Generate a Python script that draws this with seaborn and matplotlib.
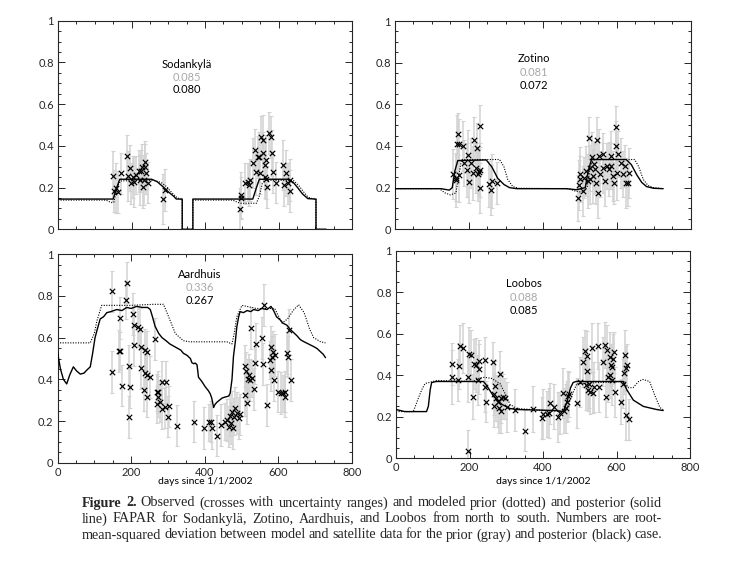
import matplotlib
matplotlib.use("Agg")
import matplotlib.pyplot as plt
from matplotlib.ticker import MultipleLocator, FuncFormatter
import seaborn as sns

# ---- Sodankyla ----
sod_obs_day = [151, 152, 158, 164, 172, 188, 190, 197, 198, 204, 208, 213, 220, 222, 226, 229, 231, 233, 236, 238, 240, 245, 285, 290,
               494, 497, 498, 510, 516, 519, 523, 530, 535, 539, 544, 548, 549, 553, 557, 559, 562, 563, 565, 566, 569, 573,
               580, 582, 584, 593, 612, 616, 621, 625, 630, 632]
sod_obs = [0.257, 0.185, 0.196, 0.18, 0.268, 0.353, 0.255, 0.292, 0.22, 0.25, 0.228, 0.26, 0.28, 0.236, 0.28, 0.30, 0.204, 0.236, 0.324, 0.30, 0.268, 0.224, 0.145, 0.188,
           0.097, 0.165, 0.149, 0.22, 0.228, 0.212, 0.236, 0.316, 0.38, 0.276, 0.348, 0.348, 0.268, 0.444, 0.367, 0.428, 0.308, 0.252, 0.243, 0.332, 0.204, 0.46,
           0.444, 0.364, 0.276, 0.224, 0.308, 0.212, 0.268, 0.22, 0.236, 0.185]
sod_err = [0.12, 0.10, 0.12, 0.10, 0.10, 0.10, 0.12, 0.11, 0.10, 0.10, 0.12, 0.09, 0.10, 0.12, 0.10, 0.11, 0.10, 0.12, 0.10, 0.11, 0.10, 0.10, 0.12, 0.10,
           0.10, 0.11, 0.10, 0.10, 0.09, 0.10, 0.10, 0.12, 0.10, 0.11, 0.10, 0.12, 0.10, 0.10, 0.10, 0.12, 0.11, 0.10, 0.10, 0.12, 0.10, 0.10,
           0.10, 0.11, 0.10, 0.10, 0.12, 0.10, 0.11, 0.10, 0.10, 0.10]
sod_prior_day = [0, 130, 145, 152, 160, 170, 260, 280, 295, 310, 325, 335, 338, 338, 367, 367, 475, 495, 540, 548, 556, 565,
                 640, 655, 668, 680, 695, 702, 702, 730]
sod_prior = [0.14, 0.14, 0.128, 0.13, 0.2, 0.232, 0.235, 0.225, 0.205, 0.175, 0.15, 0.145, 0.145, 0, 0, 0.14, 0.14, 0.125, 0.125, 0.16, 0.22, 0.235,
             0.235, 0.21, 0.18, 0.155, 0.145, 0.145, 0, 0]
sod_post_day = [0, 150, 158, 168, 255, 270, 285, 300, 315, 322, 338, 338, 367, 367, 530, 540, 548, 625, 640, 652, 665, 680, 702, 702, 730]
sod_post = [0.145, 0.145, 0.19, 0.24, 0.24, 0.228, 0.205, 0.18, 0.158, 0.145, 0.145, 0, 0, 0.145, 0.145, 0.2, 0.24, 0.24, 0.225, 0.2, 0.17, 0.147, 0.145, 0, 0]

# ---- Zotino ----
zot_obs_day = [158, 164, 166, 167, 171, 174, 174, 184, 188, 194, 197, 200, 207, 212, 214, 218, 221, 224, 228, 230, 230, 231, 254, 259, 263, 276,
               495, 497, 500, 502, 509, 513, 518, 522, 524, 527, 529, 532, 536, 538, 541, 545, 547, 550, 552, 554, 563, 563, 568, 574,
               579, 584, 586, 590, 593, 597, 599, 601, 604, 613, 617, 622, 626, 631, 634]
zot_obs = [0.264, 0.235, 0.246, 0.41, 0.458, 0.41, 0.259, 0.40, 0.317, 0.285, 0.358, 0.227, 0.317, 0.269, 0.43, 0.296, 0.39, 0.264, 0.275, 0.495, 0.199, 0.285, 0.218, 0.191, 0.231, 0.223,
           0.15, 0.215, 0.264, 0.24, 0.183, 0.248, 0.28, 0.231, 0.438, 0.24, 0.296, 0.345, 0.256, 0.312, 0.288, 0.223, 0.429, 0.175, 0.353, 0.264, 0.296, 0.36, 0.231, 0.304,
           0.288, 0.353, 0.304, 0.256, 0.223, 0.49, 0.40, 0.272, 0.361, 0.32, 0.264, 0.304, 0.223, 0.223, 0.272]
zot_err = [0.12, 0.13, 0.11, 0.14, 0.10, 0.12, 0.13, 0.12, 0.11, 0.13, 0.12, 0.10, 0.12, 0.13, 0.11, 0.12, 0.12, 0.13, 0.11, 0.10, 0.12, 0.13, 0.11, 0.12, 0.13, 0.10,
           0.11, 0.12, 0.13, 0.11, 0.12, 0.10, 0.12, 0.13, 0.10, 0.12, 0.11, 0.12, 0.13, 0.11, 0.12, 0.10, 0.11, 0.12, 0.13, 0.11, 0.12, 0.10, 0.12, 0.11,
           0.13, 0.12, 0.11, 0.12, 0.10, 0.10, 0.12, 0.13, 0.11, 0.12, 0.11, 0.10, 0.12, 0.11, 0.12]
zot_prior_day = [0, 120, 135, 150, 165, 172, 180, 283, 295, 305, 319, 335, 470, 485, 505, 520, 527, 535, 649, 660, 672, 685, 700, 726]
zot_prior = [0.195, 0.195, 0.175, 0.165, 0.175, 0.25, 0.335, 0.335, 0.3, 0.24, 0.205, 0.197, 0.195, 0.185, 0.178, 0.2, 0.28, 0.335,
             0.335, 0.3, 0.24, 0.21, 0.2, 0.195]
zot_post_day = [0, 125, 147, 155, 162, 170, 247, 262, 278, 295, 310, 330, 464, 491, 515, 523, 532, 626, 640, 655, 668, 681, 700, 726]
zot_post = [0.195, 0.195, 0.188, 0.2, 0.28, 0.33, 0.333, 0.3, 0.245, 0.215, 0.2, 0.195, 0.195, 0.19, 0.2, 0.28, 0.335, 0.335, 0.31, 0.26,
            0.225, 0.205, 0.197, 0.195]

# ---- Aardhuis ----
aar_obs_day = [149, 190, 186, 170, 167, 171, 149, 174, 195, 197, 194, 204, 209, 218, 224, 208, 226, 238, 244, 265, 226, 238, 244, 250,
               236, 243, 270, 273, 284, 294, 274, 278, 270, 284, 292, 303, 301, 325,
               372, 398, 411, 418, 420, 433, 445, 454, 460, 467, 468, 474, 479, 483, 488, 471, 477, 492, 495,
               509, 512, 517, 522, 526, 510, 519, 528, 533, 537, 539, 515, 558, 556, 561, 570, 577, 583, 580, 585, 581, 588,
               592, 599, 606, 613, 619, 617, 624, 626, 628, 633]
aar_obs = [0.822, 0.864, 0.78, 0.693, 0.536, 0.536, 0.434, 0.37, 0.466, 0.362, 0.218, 0.712, 0.661, 0.653, 0.642, 0.565, 0.554, 0.541, 0.53, 0.592, 0.453, 0.43, 0.42, 0.41,
           0.349, 0.317, 0.338, 0.34, 0.386, 0.386, 0.317, 0.293, 0.28, 0.26, 0.265, 0.27, 0.221, 0.178,
           0.197, 0.165, 0.194, 0.197, 0.165, 0.13, 0.181, 0.197, 0.205, 0.173, 0.226, 0.245, 0.221, 0.261, 0.237, 0.189, 0.168, 0.213, 0.232,
           0.464, 0.44, 0.40, 0.397, 0.645, 0.325, 0.421, 0.405, 0.354, 0.477, 0.568, 0.285, 0.475, 0.60, 0.757, 0.277, 0.493, 0.509, 0.557, 0.53, 0.445, 0.397,
           0.517, 0.341, 0.333, 0.333, 0.341, 0.317, 0.525, 0.509, 0.637, 0.397]
aar_err = [0.10, 0.10, 0.09, 0.10, 0.10, 0.09, 0.10, 0.10, 0.10, 0.10, 0.10, 0.10, 0.09, 0.10, 0.10, 0.10, 0.09, 0.10, 0.10, 0.10, 0.10, 0.09, 0.10, 0.10,
           0.10, 0.10, 0.09, 0.10, 0.10, 0.10, 0.10, 0.10, 0.09, 0.10, 0.10, 0.10, 0.10, 0.10,
           0.10, 0.10, 0.09, 0.10, 0.10, 0.10, 0.10, 0.09, 0.10, 0.10, 0.10, 0.10, 0.09, 0.10, 0.10, 0.10, 0.10, 0.10, 0.10,
           0.10, 0.09, 0.10, 0.10, 0.10, 0.10, 0.10, 0.09, 0.10, 0.10, 0.10, 0.10, 0.10, 0.10, 0.10, 0.10, 0.09, 0.10, 0.10, 0.10, 0.10, 0.10,
           0.10, 0.10, 0.10, 0.09, 0.10, 0.10, 0.10, 0.10, 0.10, 0.10]
aar_prior_day = [0, 89, 100, 107, 120, 200, 260, 288, 302, 320, 342, 360, 460, 474, 480, 487, 501, 540, 590, 610, 625, 640, 655,
                 670, 685, 696, 715, 728]
aar_prior = [0.575, 0.575, 0.62, 0.68, 0.755, 0.755, 0.76, 0.76, 0.70, 0.62, 0.585, 0.58, 0.58, 0.57, 0.62, 0.70, 0.755, 0.74, 0.74, 0.67,
             0.69, 0.73, 0.758, 0.72, 0.64, 0.60, 0.58, 0.575]
aar_post_day = [0, 8, 16, 25, 33, 43, 52, 62, 72, 80, 89, 95, 102, 108, 116, 125, 134, 145, 161, 175,
                188, 200, 215, 230, 245, 252, 258, 265, 275, 284, 295, 305, 315, 325, 335, 342, 352, 361, 365, 370,
                374, 379, 383, 392, 401, 410, 415, 419, 424, 428, 433, 440, 447, 455, 460, 465, 469, 474, 478, 483,
                487, 492, 496, 505, 515, 525, 533, 545, 555, 569, 580, 587, 595, 605, 612, 623, 632, 641, 650, 660,
                670, 678, 687, 696, 705, 714, 722, 728]
aar_post = [0.53, 0.45, 0.40, 0.378, 0.42, 0.46, 0.44, 0.425, 0.43, 0.445, 0.46, 0.52, 0.60, 0.64, 0.69, 0.70, 0.72, 0.725, 0.735, 0.73,
            0.745, 0.74, 0.75, 0.745, 0.745, 0.735, 0.70, 0.655, 0.62, 0.60, 0.585, 0.57, 0.56, 0.55, 0.54, 0.525, 0.515, 0.50, 0.48, 0.475,
            0.478, 0.47, 0.41, 0.39, 0.365, 0.345, 0.33, 0.31, 0.265, 0.28, 0.29, 0.30, 0.31, 0.315, 0.317, 0.32, 0.333, 0.40, 0.51, 0.58,
            0.65, 0.70, 0.725, 0.72, 0.73, 0.725, 0.735, 0.73, 0.74, 0.735, 0.75, 0.73, 0.70, 0.685, 0.67, 0.66, 0.64, 0.625, 0.61, 0.59,
            0.58, 0.573, 0.565, 0.557, 0.548, 0.533, 0.52, 0.504]

# ---- Loobos ----
loo_obs_day = [152, 152, 174, 181, 172, 168, 198, 204, 195, 209, 213, 218, 225, 227, 243, 263, 222, 245, 283, 241, 270, 267, 272, 278,
               268, 280, 286, 287, 297, 195, 292, 301, 324, 351, 374, 396, 401, 410, 415, 419, 431, 442, 446, 454, 458, 462, 465, 468,
               471, 493, 501, 510, 514, 519, 520, 516, 523, 532, 528, 526, 535, 540, 549, 552, 564, 569, 574, 572, 578, 581, 583, 585,
               587, 588, 590, 592, 596, 611, 618, 621, 623, 626, 628, 625, 635]
loo_obs = [0.453, 0.393, 0.541, 0.53, 0.445, 0.377, 0.502, 0.50, 0.393, 0.297, 0.454, 0.45, 0.47, 0.43, 0.475, 0.462, 0.377, 0.273, 0.406, 0.342, 0.348, 0.31, 0.29, 0.27,
           0.25, 0.24, 0.23, 0.289, 0.289, 0.035, 0.297, 0.249, 0.233, 0.133, 0.236, 0.193, 0.213, 0.215, 0.22, 0.265, 0.249, 0.2, 0.217, 0.313, 0.23, 0.24, 0.273, 0.3,
           0.308, 0.265, 0.369, 0.465, 0.517, 0.493, 0.422, 0.353, 0.329, 0.53, 0.321, 0.36, 0.316, 0.345, 0.54, 0.345, 0.466, 0.546, 0.52, 0.297, 0.39, 0.40, 0.49, 0.45,
           0.377, 0.44, 0.48, 0.51, 0.32, 0.273, 0.36, 0.41, 0.50, 0.433, 0.45, 0.21, 0.188]
loo_err = [0.10, 0.13, 0.10, 0.12, 0.11, 0.10, 0.13, 0.12, 0.12, 0.11, 0.12, 0.13, 0.10, 0.12, 0.11, 0.10, 0.12, 0.10, 0.11, 0.12, 0.12, 0.10, 0.11, 0.12,
           0.10, 0.12, 0.11, 0.12, 0.10, 0.10, 0.11, 0.12, 0.10, 0.10, 0.11, 0.10, 0.12, 0.11, 0.12, 0.10, 0.11, 0.12, 0.10, 0.12, 0.11, 0.12, 0.10, 0.12,
           0.11, 0.12, 0.12, 0.12, 0.10, 0.12, 0.11, 0.12, 0.10, 0.12, 0.11, 0.12, 0.10, 0.12, 0.11, 0.12, 0.12, 0.11, 0.12, 0.10, 0.12, 0.11, 0.12, 0.10,
           0.12, 0.11, 0.12, 0.10, 0.12, 0.11, 0.12, 0.10, 0.12, 0.11, 0.10, 0.12, 0.10]
loo_prior_day = [0, 47, 61, 70, 79, 111, 210, 225, 240, 260, 283, 300, 310, 328, 450, 465, 478, 492, 620, 632, 645, 660, 672, 690,
                 705, 718, 730]
loo_prior = [0.225, 0.225, 0.29, 0.33, 0.36, 0.375, 0.37, 0.385, 0.39, 0.385, 0.36, 0.3, 0.26, 0.24, 0.225, 0.24, 0.3, 0.36, 0.37, 0.34,
             0.34, 0.37, 0.38, 0.37, 0.3, 0.245, 0.23]
loo_post_day = [0, 24, 83, 88, 93, 97, 110, 238, 247, 265, 288, 310, 328, 437, 455, 465, 475, 482, 490, 618, 628, 646, 673, 709, 727]
loo_post = [0.235, 0.225, 0.225, 0.25, 0.33, 0.365, 0.37, 0.37, 0.35, 0.30, 0.26, 0.24, 0.235, 0.23, 0.225, 0.27, 0.34, 0.365, 0.37, 0.37,
            0.33, 0.28, 0.25, 0.235, 0.23]

site_names = ["Sodankylä", "Zotino", "Aardhuis", "Loobos"]
rmsd_prior = ["0.085", "0.081", "0.336", "0.088"]
rmsd_post = ["0.080", "0.072", "0.267", "0.085"]
xlabel_text = "days since 1/1/2002"

sns.set_style("ticks")
plt.rcParams['font.family'] = ['Lato', 'DejaVu Sans']

fig = plt.figure(figsize=(7.34, 5.63), dpi=100)
W, H = 734.0, 563.0

# axes boxes in pixels: left, top, right, bottom
boxes = [(58, 20.7, 352, 229.3), (395, 21, 690.5, 229.3), (57.5, 254.3, 352, 462.7), (396, 250.7, 690, 458.3)]
label_pos = [(350, [0.79, 0.73, 0.668]), (376, [0.82, 0.755, 0.688]), (386, [0.905, 0.843, 0.78]), (348, [0.84, 0.776, 0.713])]

obs = [(sod_obs_day, sod_obs, sod_err), (zot_obs_day, zot_obs, zot_err), (aar_obs_day, aar_obs, aar_err), (loo_obs_day, loo_obs, loo_err)]
prior = [(sod_prior_day, sod_prior), (zot_prior_day, zot_prior), (aar_prior_day, aar_prior), (loo_prior_day, loo_prior)]
post = [(sod_post_day, sod_post), (zot_post_day, zot_post), (aar_post_day, aar_post), (loo_post_day, loo_post)]

for i in range(4):
    l, t, r, b = boxes[i]
    ax = fig.add_axes([l / W, 1 - b / H, (r - l) / W, (b - t) / H])
    d, v, e = obs[i]
    ax.errorbar(d, v, yerr=e, fmt='none', ecolor='#d2d2d2', elinewidth=1.1, capsize=1.5, capthick=0.8, zorder=1)
    sns.lineplot(x=prior[i][0], y=prior[i][1], ax=ax, color='k', lw=0.8, linestyle=(0, (1, 1.3)),
                 estimator=None, sort=False, zorder=2)
    sns.lineplot(x=post[i][0], y=post[i][1], ax=ax, color='k', lw=1.0, estimator=None, sort=False, zorder=3)
    sns.scatterplot(x=d, y=v, ax=ax, marker='x', color='k', s=15, linewidth=0.85, zorder=4)

    ax.set_xlim(0, 800)
    ax.set_ylim(0, 1)
    ax.xaxis.set_major_locator(MultipleLocator(200))
    ax.xaxis.set_minor_locator(MultipleLocator(50))
    ax.yaxis.set_major_locator(MultipleLocator(0.2))
    ax.yaxis.set_minor_locator(MultipleLocator(0.05))
    ax.yaxis.set_major_formatter(FuncFormatter(lambda val, p: f"{val:g}"))
    ax.tick_params(which='both', direction='in', top=True, right=True, labelsize=8, pad=3, width=0.7)
    ax.tick_params(which='major', length=5)
    ax.tick_params(which='minor', length=2.5)
    for s in ax.spines.values():
        s.set_linewidth(0.8)
    ax.set_ylabel("")
    if i < 2:
        ax.tick_params(labelbottom=False)
        ax.set_xlabel("")
    else:
        # label placed in axes fraction so that both sit at about y = 481 px
        ax.set_xlabel("")
        ax.text(0.5, -(481 - b) / (b - t), xlabel_text, transform=ax.transAxes,
                ha='center', va='center', fontsize=7.5, color='k', clip_on=False, zorder=10)

    lx, ly = label_pos[i]
    ax.text(lx, ly[0], site_names[i], ha='center', va='center', fontsize=8, color='k')
    ax.text(lx, ly[1], rmsd_prior[i], ha='center', va='center', fontsize=8, color='#a8a8a8')
    ax.text(lx, ly[2], rmsd_post[i], ha='center', va='center', fontsize=8, color='k')

# caption, justified between x=82 and x=662 px
cap_lines = ["Figure 2.  Observed (crosses with uncertainty ranges) and modeled prior (dotted) and posterior (solid",
             "line) FAPAR for Sodankylä, Zotino, Aardhuis, and Loobos from north to south. Numbers are root-",
             "mean-squared deviation between model and satellite data for the prior (gray) and posterior (black) case."]
cap_y = [503, 519, 535]
serif = ['Liberation Serif', 'DejaVu Serif']
cap_fs = 10.2
cap_left, cap_right = 82.0, 662.0
fig.canvas.draw()
renderer = fig.canvas.get_renderer()
for k, line in enumerate(cap_lines):
    words = line.split()
    items = []
    for j, wd in enumerate(words):
        bold = (k == 0 and j < 2)
        tx = fig.text(0, 1 - cap_y[k] / H, wd, fontsize=cap_fs, family=serif, va='center', ha='left',
                      weight='bold' if bold else 'normal')
        items.append(tx)
    widths = [tx.get_window_extent(renderer).width for tx in items]
    gap = (cap_right - cap_left - sum(widths)) / (len(items) - 1)
    xpos = cap_left
    for tx, wdt in zip(items, widths):
        tx.set_x(xpos / W)
        xpos += wdt + gap

fig.savefig("out.png", dpi=100)
